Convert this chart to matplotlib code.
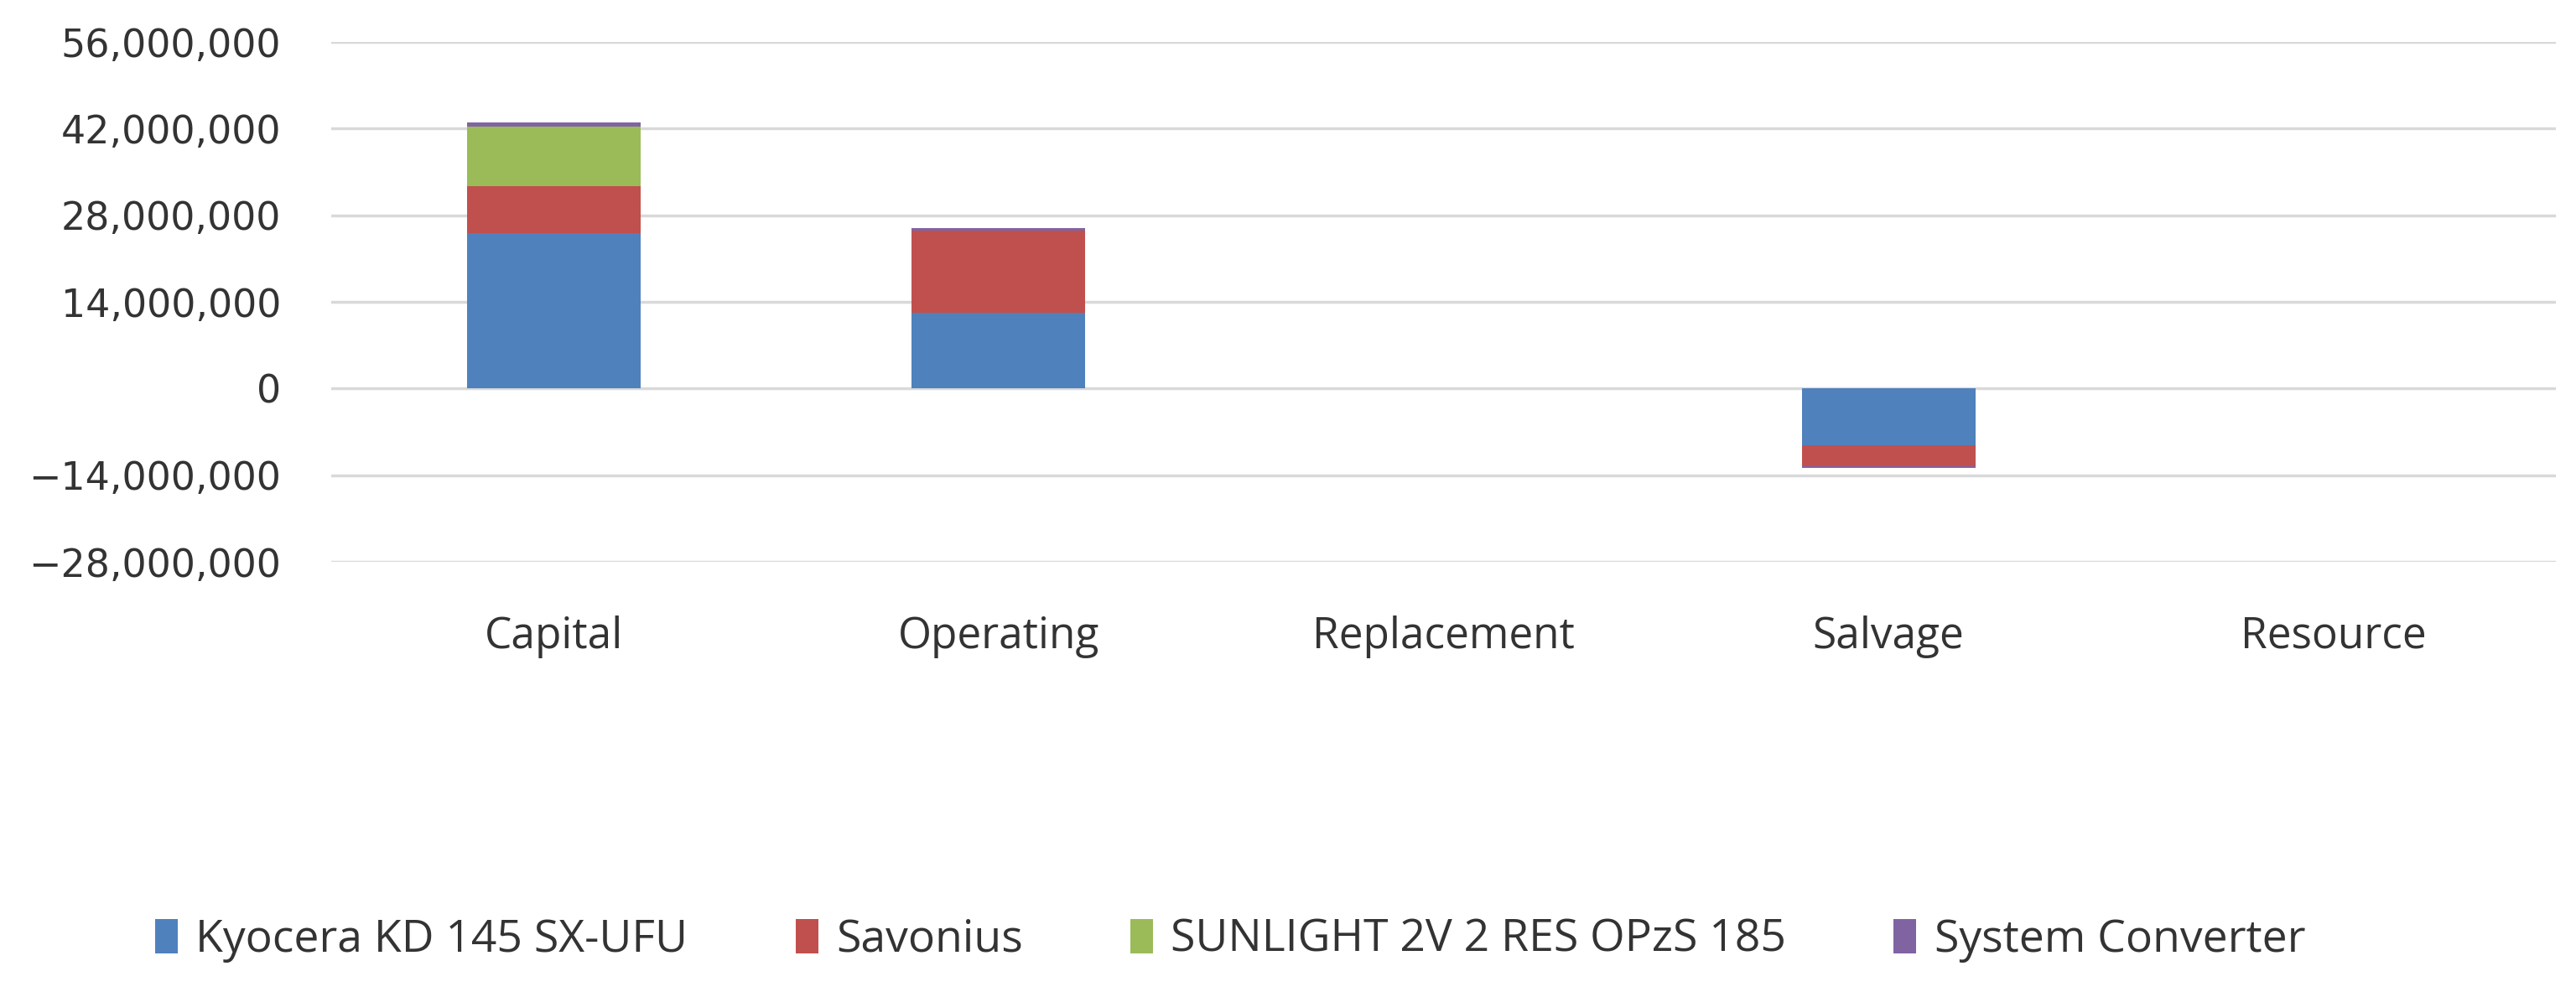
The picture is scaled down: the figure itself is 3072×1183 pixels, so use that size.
import numpy as np
import matplotlib
matplotlib.use('Agg')
import matplotlib.pyplot as plt
from matplotlib.ticker import FuncFormatter

# ============================== DATA ==============================
categories = ['Capital', 'Operating', 'Replacement', 'Salvage', 'Resource']

kyocera   = [25.1e6, 12.2e6, 0.0, -9.1e6, 0.0]
savonius  = [7.6e6, 13.3e6, 0.0, -3.4e6, 0.0]
sunlight  = [9.6e6, 0.0, 0.0, 0.0, 0.0]
converter = [0.7e6, 0.4e6, 0.0, -0.3e6, 0.0]

series_names = ['Kyocera KD 145 SX-UFU', 'Savonius', 'SUNLIGHT 2V 2 RES OPzS 185', 'System Converter']
series_vals = [kyocera, savonius, sunlight, converter]
colors = ['#4F81BD', '#C0504D', '#9BBB59', '#8064A2']

yticks = np.arange(-28e6, 56e6 + 1, 14e6)

# ============================== PLOT ==============================
fig = plt.figure(figsize=(30.72, 11.83), dpi=100)
ax = fig.add_axes([0.1286, 0.4336, 0.8636, 0.5241])

x = np.arange(len(categories))
pos_bottom = np.zeros(len(categories))
neg_bottom = np.zeros(len(categories))
handles = []
for name, vals, c in zip(series_names, series_vals, colors):
    vals = np.array(vals)
    bottom = np.where(vals >= 0, pos_bottom, neg_bottom)
    b = ax.bar(x, vals, 0.39, bottom=bottom, color=c, label=name, zorder=3)
    handles.append(b)
    pos_bottom += np.where(vals > 0, vals, 0)
    neg_bottom += np.where(vals < 0, vals, 0)

txtc = '#333333'
ax.set_xlim(-0.5, len(categories) - 0.5)
ax.set_ylim(-28e6, 56e6)
ax.set_yticks(yticks)
ax.yaxis.set_major_formatter(FuncFormatter(
    lambda v, p: ('\u2212' if v < 0 else '') + '{:,.0f}'.format(abs(v))))
ax.set_xticks(x)
ax.set_xticklabels(categories, fontfamily='Open Sans', fontsize=37, color=txtc)
for lbl in ax.get_yticklabels():
    lbl.set_fontfamily('DejaVu Sans')
    lbl.set_fontsize(33)
    lbl.set_color(txtc)
ax.tick_params(axis='y', length=0, pad=43)
ax.tick_params(axis='x', length=0, pad=46)

ax.grid(axis='y', color='#D9D9D9', linewidth=2.5, zorder=0)
for s in ax.spines.values():
    s.set_visible(False)

leg = fig.legend(handles=handles, labels=series_names, loc='center',
                 bbox_to_anchor=(0.4776, 0.0525), ncol=4, frameon=False,
                 prop={'family': 'Open Sans', 'size': 38.5},
                 handlelength=0.5, handleheight=0.8, handletextpad=0.4,
                 columnspacing=2.4, labelcolor=txtc)

fig.savefig('out.png', dpi=100, facecolor='white')
